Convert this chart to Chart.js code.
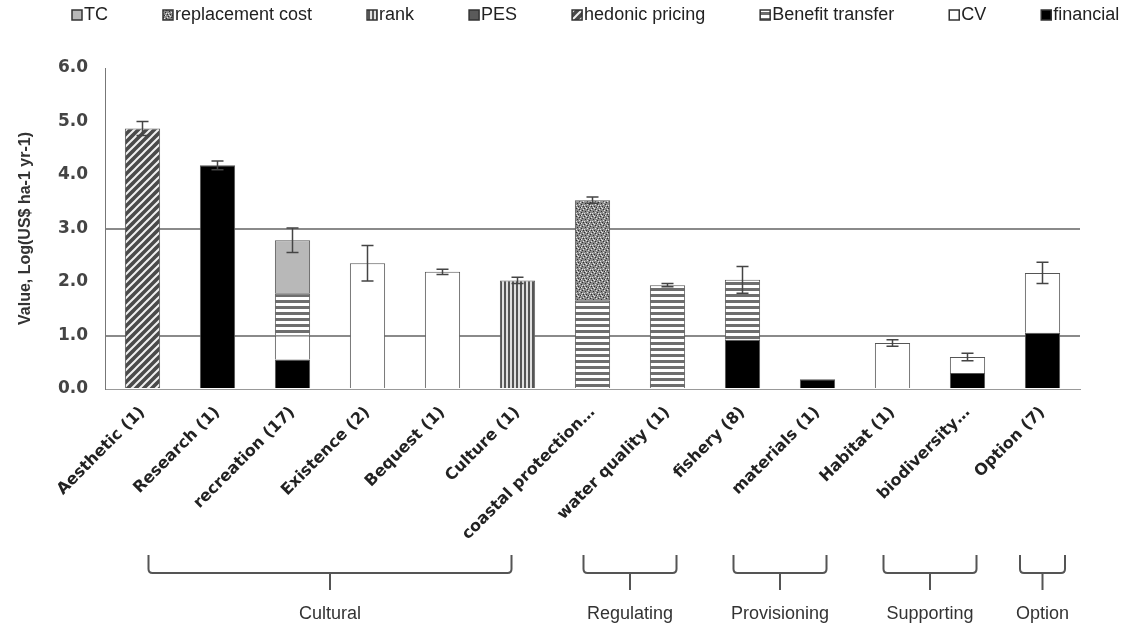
<!DOCTYPE html>
<html>
<head>
<meta charset="utf-8">
<script src="https://cdn.jsdelivr.net/npm/chart.js@4/dist/chart.umd.min.js"></script>
<style>
  html, body { margin: 0; padding: 0; background: #fff; }
  #wrap { width: 1125px; height: 632px; }
</style>
</head>
<body>
<div id="wrap"><canvas id="chart" width="1125" height="632"></canvas></div>
<script>
// Categories (ecosystem services, number of studies)
const categories = ['Aesthetic (1)', 'Research (1)', 'recreation (17)', 'Existence (2)',
    'Bequest (1)', 'Culture (1)', 'coastal protection…', 'water quality (1)',
    'fishery (8)', 'materials (1)', 'Habitat (1)', 'biodiversity…', 'Option (7)'];

// Stacked values, Log(US$ ha-1 yr-1), bottom of stack first
const financial   = [0, 4.18, 0.55, 0, 0, 0, 0, 0, 0.92, 0.18, 0, 0.30, 1.05];
const cv          = [0, 0, 0.45, 2.35, 2.19, 0, 0, 0, 0, 0, 0.86, 0.30, 1.12];
const benefit     = [0, 0, 0.79, 0, 0, 0, 1.66, 1.94, 1.12, 0, 0, 0, 0];
const hedonic     = [4.87, 0, 0, 0, 0, 0, 0, 0, 0, 0, 0, 0, 0];
const pes         = [0, 0, 0, 0, 0, 0, 0, 0, 0, 0, 0, 0, 0];
const rank        = [0, 0, 0, 0, 0, 2.03, 0, 0, 0, 0, 0, 0, 0];
const replacement = [0, 0, 0, 0, 0, 0, 1.87, 0, 0, 0, 0, 0, 0];
const tc          = [0, 0, 0.99, 0, 0, 0, 0, 0, 0, 0, 0, 0, 0];

// Error on the stack total
const errors = [0.13, 0.08, 0.23, 0.33, 0.05, 0.06, 0.06, 0.03, 0.25, 0, 0.06, 0.07, 0.2];

// Groups of services (category index ranges)
const groupNames = ['Cultural', 'Regulating', 'Provisioning', 'Supporting', 'Option'];
const groupFrom  = [0, 6, 8, 10, 12];
const groupTo    = [5, 7, 9, 11, 12];

const yTicks = [0, 1, 2, 3, 4, 5, 6];

function pattern(kind) {
    const c = document.createElement('canvas');
    c.width = 8;
    c.height = 8;
    const g = c.getContext('2d');
    if (kind == 'hatch') {
        g.fillStyle = '#4a4a4a';
        g.fillRect(0, 0, 8, 8);
        g.strokeStyle = '#f0f0f0';
        g.lineWidth = 2;
        g.beginPath();
        g.moveTo(-2, 10); g.lineTo(10, -2);
        g.moveTo(-2, 2); g.lineTo(2, -2);
        g.moveTo(6, 10); g.lineTo(10, 6);
        g.stroke();
    } else if (kind == 'hstripe') {
        c.height = 6;
        g.fillStyle = '#ffffff';
        g.fillRect(0, 0, 8, 6);
        g.fillStyle = '#6e6e6e';
        g.fillRect(0, 0, 8, 3);
    } else if (kind == 'vstripe') {
        c.width = 4;
        g.fillStyle = '#e0e0e0';
        g.fillRect(0, 0, 4, 8);
        g.fillStyle = '#555';
        g.fillRect(0, 0, 2, 8);
    } else if (kind == 'speckle') {
        g.fillStyle = '#8a8a8a';
        g.fillRect(0, 0, 8, 8);
        g.fillStyle = '#2e2e2e';
        [[0, 0], [3, 1], [6, 2], [1, 3], [5, 4], [2, 6], [7, 6], [4, 7]].forEach(p => g.fillRect(p[0], p[1], 1, 1));
        g.fillStyle = '#e6e6e6';
        [[2, 0], [7, 1], [4, 2], [0, 5], [3, 4], [6, 5], [1, 7], [5, 7]].forEach(p => g.fillRect(p[0], p[1], 1, 1));
    }
    return g.createPattern(c, 'repeat');
}

const series = [
    {label: 'financial', data: financial, fill: '#000000'},
    {label: 'CV', data: cv, fill: '#ffffff'},
    {label: 'Benefit transfer', data: benefit, fill: pattern('hstripe')},
    {label: 'hedonic pricing', data: hedonic, fill: pattern('hatch')},
    {label: 'PES', data: pes, fill: '#5a5a5a'},
    {label: 'rank', data: rank, fill: pattern('vstripe')},
    {label: 'replacement cost', data: replacement, fill: pattern('speckle')},
    {label: 'TC', data: tc, fill: '#b8b8b8'},
];

const datasets = series.map(s => ({
    label: s.label,
    data: s.data.map(v => v || null),
    backgroundColor: s.fill,
    borderColor: '#555',
    borderWidth: 1,
    barPercentage: 0.47,
    categoryPercentage: 1.0,
}));

// Legend drawn in one row, items in reverse stack order
const pluginLegendRow = {
    id: 'legendRow',
    afterDraw: function(chart) {
        const ctx = chart.ctx;
        ctx.save();
        ctx.font = '18px "Liberation Sans", Arial, sans-serif';
        ctx.textBaseline = 'middle';
        let x = 72;
        const y = 15;
        const items = chart.data.datasets.slice().reverse();
        for (const ds of items) {
            ctx.fillStyle = ds.backgroundColor;
            ctx.fillRect(x, y - 5, 10, 10);
            ctx.strokeStyle = '#333';
            ctx.lineWidth = 1.5;
            ctx.strokeRect(x, y - 5, 10, 10);
            ctx.fillStyle = '#222';
            ctx.fillText(ds.label, x + 12, y);
            x += 12 + ctx.measureText(ds.label).width + 55;
        }
        ctx.restore();
    },
};

// Error bars on the stack totals
const pluginErrorBars = {
    id: 'errorBars',
    afterDatasetsDraw: function(chart) {
        const ctx = chart.ctx;
        const xs = chart.scales.x;
        const ys = chart.scales.y;
        ctx.save();
        ctx.strokeStyle = '#444';
        ctx.lineWidth = 1.5;
        for (let i = 0; i < categories.length; ++i) {
            if (!errors[i])
                continue;
            let total = 0;
            for (const s of series)
                total += s.data[i];
            const x = xs.getPixelForValue(i);
            const yTop = ys.getPixelForValue(total + errors[i]);
            const yBot = ys.getPixelForValue(total - errors[i]);
            ctx.beginPath();
            ctx.moveTo(x, yTop); ctx.lineTo(x, yBot);
            ctx.moveTo(x - 6, yTop); ctx.lineTo(x + 6, yTop);
            ctx.moveTo(x - 6, yBot); ctx.lineTo(x + 6, yBot);
            ctx.stroke();
        }
        ctx.restore();
    },
};

// Brackets and group names below the category labels
const pluginGroups = {
    id: 'groups',
    afterDraw: function(chart) {
        const ctx = chart.ctx;
        const xs = chart.scales.x;
        const base = chart.chartArea.bottom;
        const top = base + 166;
        const line = base + 184;
        const tip = base + 201;
        ctx.save();
        ctx.strokeStyle = '#555';
        ctx.lineWidth = 2;
        ctx.font = '18px "Liberation Sans", Arial, sans-serif';
        ctx.fillStyle = '#333';
        ctx.textAlign = 'center';
        ctx.textBaseline = 'middle';
        for (let g = 0; g < groupNames.length; ++g) {
            const pad = groupFrom[g] == groupTo[g] ? 0.3 : (groupTo[g] - groupFrom[g] > 1 ? -0.08 : 0.12);
            const x1 = xs.getPixelForValue(groupFrom[g] - pad);
            const x2 = xs.getPixelForValue(groupTo[g] + pad);
            const xm = (x1 + x2) / 2;
            ctx.beginPath();
            ctx.moveTo(x1, top);
            ctx.lineTo(x1, line - 4);
            ctx.quadraticCurveTo(x1, line, x1 + 4, line);
            ctx.lineTo(x2 - 4, line);
            ctx.quadraticCurveTo(x2, line, x2, line - 4);
            ctx.lineTo(x2, top);
            ctx.moveTo(xm, line);
            ctx.lineTo(xm, tip);
            ctx.stroke();
            ctx.fillText(groupNames[g], xm, base + 225);
        }
        ctx.restore();
    },
};

new Chart(document.getElementById('chart'), {
    type: 'bar',
    data: {labels: categories, datasets: datasets},
    options: {
        responsive: false,
        animation: false,
        layout: {padding: {left: 0, right: 45, top: 68, bottom: 80}},
        plugins: {
            legend: {display: false},
            tooltip: {enabled: false},
        },
        scales: {
            x: {
                stacked: true,
                grid: {display: false, drawTicks: false},
                border: {display: true, color: '#999'},
                ticks: {
                    autoSkip: false,
                    minRotation: 45,
                    maxRotation: 45,
                    padding: 14,
                    color: '#222',
                    font: {family: '"DejaVu Sans", Verdana, sans-serif', size: 16, weight: 'bold'},
                },
                afterFit: function(scale) {
                    scale.height = 163;
                },
            },
            y: {
                stacked: true,
                min: 0,
                max: 6,
                afterBuildTicks: function(scale) {
                    scale.ticks = yTicks.map(v => ({value: v}));
                },
                grid: {
                    drawTicks: false,
                    lineWidth: 2,
                    color: ctx => (ctx.tick.value == 1 || ctx.tick.value == 3) ? '#8a8a8a' : 'rgba(0,0,0,0)',
                },
                border: {display: true, color: '#777'},
                ticks: {
                    padding: 17,
                    color: '#444',
                    font: {family: '"DejaVu Sans", Verdana, sans-serif', size: 17, weight: 'bold'},
                    callback: v => v.toFixed(1),
                },
                title: {
                    display: true,
                    text: 'Value, Log(US$ ha-1 yr-1)',
                    color: '#333',
                    padding: {top: 16, bottom: 0},
                    font: {family: '"Liberation Sans", Arial, sans-serif', size: 16, weight: 'bold'},
                },
                afterFit: function(scale) {
                    scale.width = 105;
                },
            },
        },
    },
    plugins: [pluginErrorBars, pluginGroups, pluginLegendRow],
});
</script>
</body>
</html>
